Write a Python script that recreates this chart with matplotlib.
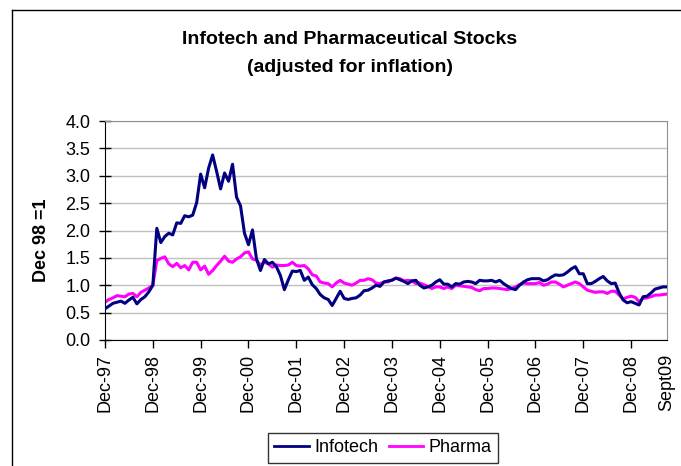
import matplotlib
matplotlib.use('Agg')
import matplotlib.pyplot as plt
from matplotlib.lines import Line2D

plt.rcParams['font.family'] = ['Liberation Sans', 'DejaVu Sans']

# monthly values, Dec-97 .. Sept-09, indexed so Dec-98 = 1
infotech = [
    0.57, 0.62, 0.67, 0.69, 0.71, 0.67, 0.73, 0.78, 0.66, 0.74, 0.79, 0.88,
    1.00, 2.04, 1.78, 1.89, 1.95, 1.92, 2.14, 2.13, 2.27, 2.25, 2.28, 2.51,
    3.03, 2.78, 3.14, 3.38, 3.08, 2.76, 3.05, 2.90, 3.21, 2.61, 2.45, 1.95,
    1.74, 2.01, 1.48, 1.27, 1.47, 1.39, 1.42, 1.34, 1.18, 0.92, 1.10, 1.26,
    1.25, 1.27, 1.09, 1.15, 1.01, 0.94, 0.83, 0.77, 0.74, 0.63, 0.76, 0.89,
    0.76, 0.74, 0.76, 0.77, 0.82, 0.90, 0.91, 0.95, 1.00, 0.98, 1.06, 1.08,
    1.09, 1.13, 1.10, 1.07, 1.03, 1.08, 1.09, 1.00, 0.95, 0.97, 1.00, 1.06,
    1.10, 1.02, 1.02, 0.97, 1.03, 1.02, 1.06, 1.07, 1.06, 1.03, 1.09, 1.08,
    1.08, 1.09, 1.06, 1.09, 1.03, 0.98, 0.94, 0.92, 1.00, 1.06, 1.10, 1.12,
    1.12, 1.12, 1.08, 1.10, 1.15, 1.19, 1.18, 1.19, 1.24, 1.30, 1.34, 1.21,
    1.21, 1.03, 1.03, 1.07, 1.12, 1.16, 1.08, 1.03, 1.04, 0.86, 0.73, 0.68,
    0.70, 0.67, 0.64, 0.79, 0.80, 0.86, 0.93, 0.95, 0.97, 0.97,
]
pharma = [
    0.69, 0.74, 0.77, 0.81, 0.80, 0.79, 0.84, 0.85, 0.79, 0.87, 0.91, 0.95,
    1.00, 1.45, 1.49, 1.52, 1.39, 1.34, 1.40, 1.32, 1.36, 1.28, 1.42, 1.42,
    1.28, 1.35, 1.20, 1.27, 1.36, 1.44, 1.53, 1.44, 1.42, 1.48, 1.52, 1.59,
    1.61, 1.48, 1.46, 1.37, 1.42, 1.39, 1.33, 1.37, 1.36, 1.36, 1.37, 1.42,
    1.36, 1.35, 1.36, 1.30, 1.19, 1.17, 1.06, 1.04, 1.03, 0.97, 1.04, 1.09,
    1.04, 1.02, 1.00, 1.04, 1.09, 1.09, 1.12, 1.10, 1.04, 1.03, 1.06, 1.06,
    1.10, 1.13, 1.12, 1.08, 1.09, 1.08, 1.03, 1.04, 1.01, 0.98, 0.94, 0.97,
    0.97, 0.94, 0.97, 0.94, 1.00, 0.99, 0.98, 0.97, 0.96, 0.92, 0.90, 0.94,
    0.94, 0.95, 0.95, 0.94, 0.93, 0.92, 0.94, 0.97, 1.01, 1.04, 1.03, 1.03,
    1.03, 1.05, 1.00, 1.02, 1.06, 1.06, 1.02, 0.97, 1.00, 1.03, 1.06, 1.03,
    0.97, 0.91, 0.89, 0.87, 0.88, 0.88, 0.85, 0.89, 0.89, 0.82, 0.75, 0.78,
    0.80, 0.78, 0.70, 0.76, 0.77, 0.79, 0.82, 0.82, 0.83, 0.84,
]
tick_labels = ['Dec-97', 'Dec-98', 'Dec-99', 'Dec-00', 'Dec-01', 'Dec-02',
               'Dec-03', 'Dec-04', 'Dec-05', 'Dec-06', 'Dec-07', 'Dec-08',
               'Sept09']
tick_months = list(range(0, 133, 12)) + [141]

W, H = 681, 466
fig = plt.figure(figsize=(W / 100, H / 100), dpi=100)
ax = fig.add_axes([105 / W, 1 - 340 / H, (667 - 105) / W, (340 - 121) / H])

months = list(range(len(infotech)))
ax.plot(months, infotech, color='#000080', lw=2.2, label='Infotech', zorder=3)
ax.plot(months, pharma, color='#FF00FF', lw=2.2, label='Pharma', zorder=2)

ax.set_xlim(0, 141)
ax.set_ylim(0, 4)
ax.set_yticks([i * 0.5 for i in range(9)])
ax.set_yticklabels(['%.1f' % (i * 0.5) for i in range(9)])
ax.set_xticks(tick_months)
ax.set_xticklabels(tick_labels, rotation=90)
ax.xaxis.get_major_ticks()[-1].tick1line.set_visible(False)

ax.tick_params(axis='x', direction='out', length=6, width=1, pad=4, labelsize=13)
ax.tick_params(axis='y', direction='inout', length=9, width=1, pad=6, labelsize=13)
ax.yaxis.grid(True, color='#c0c0c0', lw=1)
ax.set_axisbelow(True)
for side in ['top', 'right']:
    ax.spines[side].set_color('#909090')
for side in ['left', 'bottom']:
    ax.spines[side].set_color('black')

fig.text(350 / W, 1 - 40 / H, 'Infotech and Pharmaceutical Stocks',
         ha='center', va='center', fontsize=14, fontweight='bold')
fig.text(350 / W, 1 - 67 / H, '(adjusted for inflation)',
         ha='center', va='center', fontsize=14, fontweight='bold')
fig.text(42 / W, 1 - 240 / H, 'Dec 98 =1', rotation=90,
         ha='center', va='center', fontsize=13, fontweight='bold')

leg = fig.legend(loc='upper center', bbox_to_anchor=(383 / W, 1 - 433 / H),
                 ncol=2, fontsize=13, frameon=True, fancybox=False,
                 handlelength=1.9, handletextpad=0.3, columnspacing=0.6,
                 borderpad=0.35, borderaxespad=0)
leg.get_frame().set_edgecolor('black')
leg.get_frame().set_linewidth(1)
for h in leg.get_lines():
    h.set_linewidth(2)

# chart-area border (left and top only, rest is cropped)
fig.add_artist(Line2D([12 / W, 12 / W], [0, 1 - 10 / H], color='black', lw=1))
fig.add_artist(Line2D([12 / W, 1], [1 - 10 / H, 1 - 10 / H], color='black', lw=1))

fig.savefig('out.png', dpi=100)
